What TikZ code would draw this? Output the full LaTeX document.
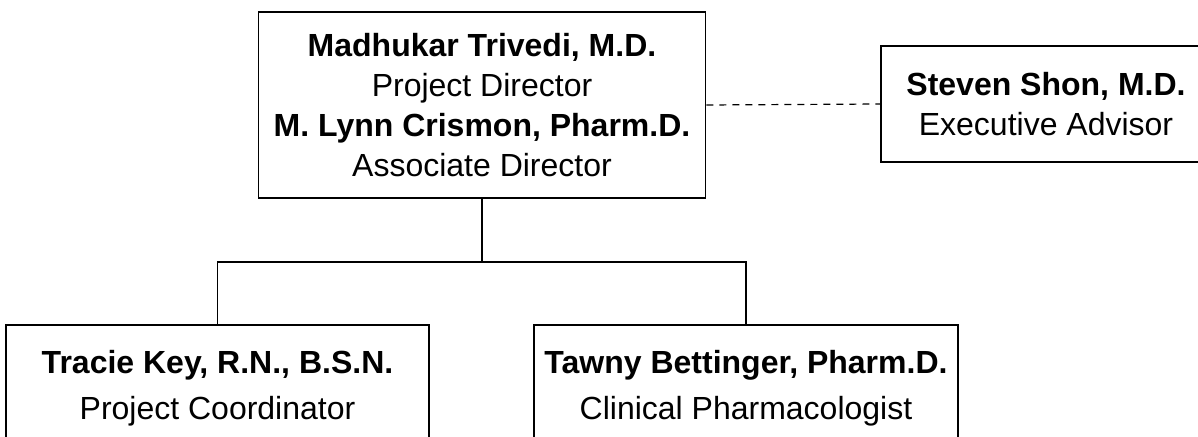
\documentclass[tikz,border=0pt]{standalone}
\usepackage{fontspec}
\setmainfont{Liberation Sans}
\usepackage{tikz}

\begin{document}
\begin{tikzpicture}[x=1pt,y=-1pt,
    box/.style={draw, line width=1.2pt, align=center, inner sep=0pt,
        font=\fontsize{32}{40}\selectfont},
    staff/.style={box, font=\fontsize{32}{46}\selectfont},
    link/.style={line width=1.2pt}]

    \useasboundingbox (0,0) rectangle (1198,436);
    \clip (0,0) rectangle (1198,436);

    \node[box, minimum width=447.5pt, minimum height=186pt] (dir) at (482,105)
        {\textbf{Madhukar Trivedi, M.D.}\\Project Director\\
         \textbf{M. Lynn Crismon, Pharm.D.}\\Associate Director};

    \node[box, minimum width=330pt, minimum height=116pt] (adv) at (1046,104)
        {\textbf{Steven Shon, M.D.}\\Executive Advisor};

    \node[staff, minimum width=423pt, minimum height=126pt] (coord) at (217.5,388)
        {\textbf{Tracie Key, R.N., B.S.N.}\\Project Coordinator};

    \node[staff, minimum width=424pt, minimum height=126pt] (pharm) at (746,388)
        {\textbf{Tawny Bettinger, Pharm.D.}\\Clinical Pharmacologist};

    \coordinate (split) at (482,262);

    \draw[link] (dir.south) -- (split);
    \draw[link] (split) -| (coord.north);
    \draw[link] (split) -| (pharm.north);

    \draw[link, dash pattern=on 7pt off 6pt] (dir.east) -- (adv.west);

\end{tikzpicture}
\end{document}
